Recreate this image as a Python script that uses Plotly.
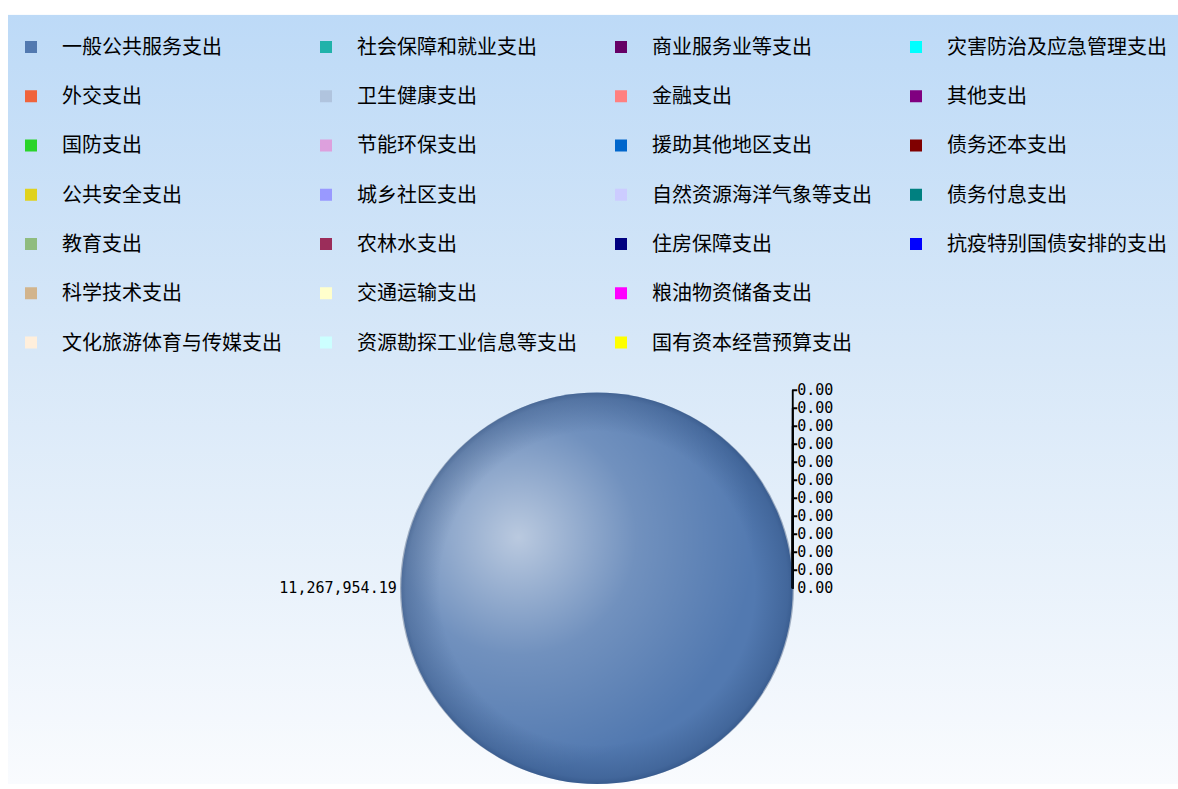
import base64
import plotly.graph_objects as go

# ---------------- data ----------------
categories = [
    "一般公共服务支出", "外交支出", "国防支出", "公共安全支出", "教育支出", "科学技术支出",
    "文化旅游体育与传媒支出",
    "社会保障和就业支出", "卫生健康支出", "节能环保支出", "城乡社区支出", "农林水支出",
    "交通运输支出", "资源勘探工业信息等支出",
    "商业服务业等支出", "金融支出", "援助其他地区支出", "自然资源海洋气象等支出",
    "住房保障支出", "粮油物资储备支出", "国有资本经营预算支出",
    "灾害防治及应急管理支出", "其他支出", "债务还本支出", "债务付息支出", "抗疫特别国债安排的支出",
]
values = [
    11267954.19, 0, 0, 0, 0, 0,
    0,
    0, 0, 0, 0, 0,
    0, 0,
    0, 0, 0, 0,
    0, 0, 0,
    0, 0, 0, 0, 0,
]
colors = [
    "#5279b0", "#f0643c", "#2ad42a", "#e0d21e", "#8fbc7f", "#d2b48c",
    "#ffefdc",
    "#20b2aa", "#b0c4de", "#dda0dd", "#9999ff", "#9b2d5a",
    "#ffffcc", "#ccffff",
    "#660066", "#ff8080", "#0066cc", "#ccccff",
    "#000080", "#ff00ff", "#ffff00",
    "#00ffff", "#800080", "#800000", "#008080", "#0000ff",
]
# value labels that are visible in the reference (others are hidden behind overlaps)
labelled = {
    "一般公共服务支出", "外交支出", "教育支出", "社会保障和就业支出", "卫生健康支出",
    "节能环保支出", "商业服务业等支出", "住房保障支出", "灾害防治及应急管理支出",
    "其他支出", "债务付息支出", "抗疫特别国债安排的支出", "粮油物资储备支出",
}
column_sizes = [7, 7, 7, 5]   # legend columns in the reference
n_rows = 7

# ---------------- legend grid order (row-major for a horizontal legend) ----------------
cols = []
start = 0
for n in column_sizes:
    cols.append(list(range(start, start + n)))
    start += n

labels, vals, cols_c, positions, is_real = [], [], [], [], []
blank = 0
for r in range(n_rows):
    for c in cols:
        if r < len(c):
            i = c[r]
            labels.append(categories[i])
            vals.append(values[i])
            cols_c.append(colors[i])
            positions.append("outside" if categories[i] in labelled else "none")
            is_real.append(True)
        else:
            blank += 1
            labels.append("\u3000" * blank)   # empty grid cell
            vals.append(0)
            cols_c.append("rgba(0,0,0,0)")
            positions.append("none")
            is_real.append(False)

legend_font = 17.8
legend_text_size = 20
legend_labels = [
    f"<span style='font-size:{legend_text_size}px'>{l}</span><br>\u00a0" for l in labels
]

W, H = 1178, 789
pie_cx, pie_cy, pie_r = 597, 592, 197
dom_x = [(pie_cx - pie_r) / W, (pie_cx + pie_r) / W]
dom_y = [max(0, (H - pie_cy - pie_r) / H), (H - pie_cy + pie_r) / H]

fig = go.Figure(go.Pie(
    labels=legend_labels,
    values=vals,
    sort=False,
    direction="clockwise",
    rotation=90,
    marker=dict(colors=cols_c, line=dict(width=0)),
    textposition=positions,
    texttemplate="%{value:,.2f}",
    textfont=dict(family="DejaVu Sans Mono", size=15, color="#000000"),
    domain=dict(x=dom_x, y=dom_y),
    hoverinfo="label+value",
))

# background gradient
bg_svg = f"""<svg xmlns='http://www.w3.org/2000/svg' width='{W}' height='{H}' viewBox='0 0 {W} {H}' preserveAspectRatio='none'>
<defs><linearGradient id='g' x1='0' y1='0' x2='0' y2='1'>
<stop offset='0' stop-color='#bddaf7'/><stop offset='0.45' stop-color='#d8e8f8'/><stop offset='1' stop-color='#f9fbfe'/>
</linearGradient></defs>
<rect width='{W}' height='{H}' fill='#ffffff'/>
<rect x='8' y='15' width='{W-8}' height='{H-15}' fill='url(#g)'/>
</svg>"""
bg_src = "data:image/svg+xml;base64," + base64.b64encode(bg_svg.encode()).decode()

# sphere shading overlay
sp_svg = """<svg xmlns='http://www.w3.org/2000/svg' width='400' height='400' viewBox='0 0 400 400'>
<defs>
<radialGradient id='h' cx='0.3' cy='0.37' r='0.6' fx='0.3' fy='0.37'>
<stop offset='0' stop-color='#ffffff' stop-opacity='0.6'/>
<stop offset='0.5' stop-color='#ffffff' stop-opacity='0.18'/>
<stop offset='1' stop-color='#ffffff' stop-opacity='0'/>
</radialGradient>
<radialGradient id='e' cx='0.5' cy='0.5' r='0.5'>
<stop offset='0.8' stop-color='#0a2550' stop-opacity='0'/>
<stop offset='0.97' stop-color='#0a2550' stop-opacity='0.22'/>
<stop offset='1' stop-color='#0a2550' stop-opacity='0.35'/>
</radialGradient>
</defs>
<circle cx='200' cy='200' r='200' fill='url(#h)'/>
<circle cx='200' cy='200' r='200' fill='url(#e)'/>
</svg>"""
sp_src = "data:image/svg+xml;base64," + base64.b64encode(sp_svg.encode()).decode()

fig.update_layout(
    width=W, height=H,
    margin=dict(l=0, r=0, t=0, b=0),
    paper_bgcolor="#ffffff",
    font=dict(family="Noto Sans CJK SC", color="#000000"),
    showlegend=True,
    legend=dict(
        orientation="h",
        x=0, xanchor="left",
        y=1 - 29 / H, yanchor="top",
        entrywidth=228, entrywidthmode="pixels",
        itemwidth=52,
        valign="top",
        bgcolor="rgba(0,0,0,0)",
        font=dict(family="Noto Sans CJK SC", size=legend_font, color="#000000"),
        traceorder="normal",
    ),
    images=[
        dict(source=bg_src, xref="paper", yref="paper", x=0, y=1, sizex=1, sizey=1,
             xanchor="left", yanchor="top", sizing="stretch", layer="below"),
        dict(source=sp_src, xref="paper", yref="paper",
             x=(pie_cx - pie_r) / W, y=(H - pie_cy + pie_r) / H,
             sizex=2 * pie_r / W, sizey=2 * pie_r / H,
             xanchor="left", yanchor="top", sizing="stretch", layer="above"),
    ],
)

fig.write_html(
    "out.html",
    config={"displayModeBar": False},
    post_script="document.body.style.margin='0';document.body.style.overflow='hidden';",
)
